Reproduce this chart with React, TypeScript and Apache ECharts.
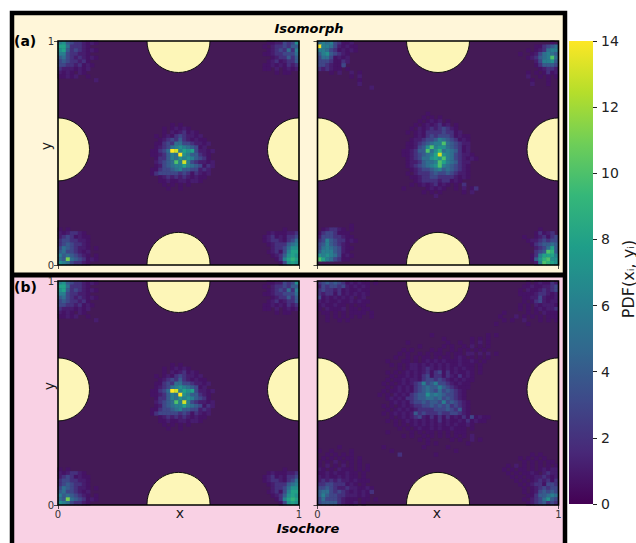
import React, { useEffect, useRef } from "react";
import * as echarts from "echarts";

const FONT = "DejaVu Sans";
const VIRIDIS = ["#44095c", "#482878", "#3e4989", "#31688e", "#26828e", "#1f9e89", "#35b779", "#6ece58", "#b5de2b", "#fde725"];
const colorbarStops = ["#440154", "#482878", "#3e4989", "#31688e", "#26828e", "#1f9e89", "#35b779", "#6ece58", "#b5de2b", "#fde725"];
const EMPTY_COLOR = "#441a56";
const BINS = 60;
const binLabels = Array.from({ length: BINS }, (_, i) => String(i));

// Hand-read cell values: digit = PDF value (hex, e = 14), "," = 0.5, "." = empty. Rows run top to bottom.
const isoLeftCentre = [ // col 21, row 21
  "...................",
  ".......,.,.........",
  ".....,.,1,1,.......",
  ".....,.1,12,1,.....",
  "...,.,1,23211,1....",
  "....,1232421,1,,...",
  "...,,2325533211,1..",
  "...,1235676543,1...",
  "..,,235ed6878311,1.",
  "..,,12465e764421,..",
  "...,224657676432,..",
  "...12345a6d63211,1.",
  "...,13456686543,21.",
  "..,,2334564433121..",
  "..,233333232,21,1..",
  "....,1212121,1,,...",
  "....,,1,,11,11,....",
  ".....,.,.,.,.......",
  "......,..,.........",
];
const isoLeftTL = [ // col 0, row 0
  "6743221,1,...",
  "8852221,.....",
  "7842321,1,...",
  "6632211,.....",
  "4532121,1,...",
  "3432212,.....",
  "332212,1,....",
  "2111,1,1.....",
  "1,1,.1,......",
  ",,1,1..,.....",
  ".........1...",
];
const isoLeftTR = [ // col 48, row 0
  "....,,113237",
  "...,.1223244",
  "....,1232526",
  "...,,1223335",
  ".....,122424",
  "....,12,1224",
  "...,,1,1,212",
  "...,,.1.,1,1",
  "......,.,,..",
];
const isoLeftBL = [ // col 0, row 50
  ",.,.........",
  "1,1221,.....",
  "1232,1,,....",
  "2332211,....",
  "2343221,....",
  "3543211,.,..",
  "453321,1....",
  "6454321,.,..",
  "54b5432,1,..",
  "7653221,....",
];
const isoLeftBR = [ // col 48, row 50
  "........,...",
  "....,1,,,112",
  "...,12,1,223",
  "...,1221,235",
  "....,1222456",
  ".....1223577",
  "....,12,3688",
  ".....,12478 ".replace(" ", "7"),
  "......,26898",
  ".......,3787",
];

const isoRightCentre = [ // col 19, row 19
  "........,...............",
  ".......,.,.,............",
  "......,.,1,1.,..........",
  ".....,.,1,12,1.,........",
  "....,.1,1212321,........",
  "...,.,1,2222322,1.......",
  ".....,1,2323332,1,,.....",
  "....,11233465432,1,.....",
  "...,,1234566a543211.....",
  "...,,1347a6775432,1.....",
  "..,,1244a57956542,1.....",
  "..,,1234568d7653211,....",
  "...,12355787a65321,1,...",
  "...,1124556a8654211.....",
  "...,1234567a654321,.....",
  "....,1233456454321,.....",
  "...,.1222343343211,.....",
  "....,,1223322221,1,.....",
  ".....,12222122,1,.......",
  "....,.,1,12,1,.,.2......",
  "..,.....,1,1,..,.1.,2...",
  ".......,.,.,.....,.1....",
  "..........1.............",
];
const isoRightTL = [ // col 0, row 0
  "565632,,1......",
  "e66531,1,,.....",
  "66532,1,1,.....",
  "4674321,.......",
  "3553,1,1.......",
  "3332,,21.......",
  "3321,,3........",
  "2121,,.,.......",
  "...,.1..1.,....",
  "........,.1....",
  "..........,....",
  "..........1....",
  ".............1.",
];
const isoRightTR = [ // col 44, row 0
  "..............,.",
  "..........,,2345",
  "........,.,12566",
  "......,..,135654",
  "........,12456a5",
  "..........136674",
  "..........,24443",
  "...........,1221",
  "........,.,.,2,1",
  "........1..,.,.,",
  ".........,...,..",
  ".........1...,..",
];
const isoRightBL = [ // col 0, row 49
  "........,...",
  ".,1221,.,...",
  ",2332,,,....",
  "1333221,,...",
  "2364322,1,..",
  "3464321,....",
  "3565431,,...",
  "4666431,....",
  "767653,1,...",
  "a86532,,....",
];
const isoRightBR = [ // col 46, row 50
  ".........,....",
  "........,2,12.",
  ".....,..,12,23",
  "......,1123233",
  ".......,234454",
  "........123584",
  "........234a94",
  ".......,268886",
  ".......,479a77",
  "........16a987",
];

const isochoreRightCentre = [ // col 14, row 14
  "..............,.............,.,.",
  ".................,......,.,.,...",
  "........,.........,..,..,.1.,...",
  "...........,.....,.,..,.1.,.,...",
  ".......,.,....,.,..,.,.,.,.,....",
  "......,.,..,.,.,,.,.,,.11.1.1.,.",
  ".....,..,.,.,,.,.,,.,1,.,.,.,...",
  "...,...,,.,.,1,1,1,,,1,,1,.,....",
  "....,.,.,11,1,1,1,1,,1,,,.,.....",
  "......,.,11,121,1,1,1,1,,.,.....",
  "...,.,.,1,1,12,23,2,1,,1,.,.....",
  "....,.,,1,1,23,22,21,2,1,.......",
  "...,.,,1,11,2332321,1,1,,.......",
  "..,.,.,1,12363463321,1,,........",
  "...,.,1,1,23454464321,,,........",
  "..,.,,1,1,234543534321,.........",
  ".,.,.1,1,23447565433 21,".replace(" ", ""),
  "...,1,1,22344554534321,.........",
  "....,1,1,23343443634321,........",
  "..,.,.,1,1223343434232 1,".replace(" ", ""),
  "...,.,1,1,1222233343241,........",
  "..,.,1,1,142322232233 21,".replace(" ", ""),
  "....,.,1,1231,2,2,2,1,2,3,1,,...",
  "...,.,.,1,1,1,1,2,1,,1,2,1,,....",
  ".....,.,.,1,1,1,1,1,1,,1,.......",
  "......,.,.,1,,1,1,,1,,,.,.......",
  "...,.....,.,.,,.,.,.,,,.........",
  ".......,.,..,.,.,.,.,.,.1.......",
  "...........,.,.....,.,..1.,.....",
  ".............,.,.......,........",
  "..,.........,.....,.............",
  "....,...............,...........",
  "......2........,................",
];
const isochoreRightTL = [ // col 0, row 0
  "2343432,1,1,,.,",
  "13233231,1,1,..",
  "232212,1,,1,,..",
  "2122,2,1,1,1,..",
  "3,1,1,1,1.,1...",
  "1,1,,1,,1,1,,..",
  ",1,,1,,.,.,,...",
  ",.1,,,1.,,.,,..",
  ".,,.,.,.,,,,.,.",
  "..,.,.,.,.,..,.",
  "..,..,.,.......",
];
const isochoreRightTR = [ // col 44, row 0
  "........,.,1,,213",
  ".......,,1,,1123",
  "......,.1,,12123",
  "......,,,,1221,1",
  ".......,,1131,,1",
  ".......,.,231,11",
  "......,.,.1,111,",
  "......,.,.,1,112",
  "..,.....,.,.1,,,",
  ".,...1.,.,.,.,,,",
  "..,.,..1...,.,.,",
  ",.......,.......",
];
const isochoreRightBL = [ // col 0, row 44
  ".....,.........",
  ",..,....,......",
  "..,.,.,.,......",
  ".,.,.,.,,.,....",
  ",.,.1.,.,.,....",
  ",.1.,.1.,.,.,..",
  "1,.,.1,,,.,.,..",
  ",,1,1,,1,,.,...",
  "1,1,,1,1,,.,...",
  "12121211,1,,,..",
  "2233222,1,.,...",
  "3343211211,,1,.",
  "45532321,1,1,2.",
  "4643322111,1,..",
  "3533321,,,.,,.,",
  "3444421,,1.,...",
];
const isochoreRightBR = [ // col 44, row 46
  ".........,.,....",
  "......,.,.,.,...",
  ".......,.,.,.,,.",
  "...,.1.,.,.,.,.,",
  "..,.,.,,.,.,1,11",
  "...,.,.,,1,.1211",
  "....,.,.,,1121,1",
  ".....,.,.,1212,2",
  "......,.,122,332",
  ".......,.,123233",
  ".......,.,134343",
  "........,,244565",
  ".......,.1235743",
  "........,1234232",
];

type Patch = [number, number, string[]];
const isomorphLeft: Patch[] = [[21, 21, isoLeftCentre], [0, 0, isoLeftTL], [48, 0, isoLeftTR], [0, 50, isoLeftBL], [48, 50, isoLeftBR]];
const isomorphRight: Patch[] = [[19, 19, isoRightCentre], [0, 0, isoRightTL], [44, 0, isoRightTR], [0, 49, isoRightBL], [46, 50, isoRightBR]];
const isochoreLeft = isomorphLeft;
const isochoreRight: Patch[] = [[14, 14, isochoreRightCentre], [0, 0, isochoreRightTL], [44, 0, isochoreRightTR], [0, 44, isochoreRightBL], [44, 46, isochoreRightBR]];

const excludedCentres = [[0.5, 1], [0.5, 0.005], [0, 0.516], [1, 0.516]];
const colorbarTop = [14];

function cells(patches: Patch[]) {
  const out: number[][] = [];
  patches.forEach(([c0, r0, rows]) => rows.forEach((s, r) => {
    s.split("").forEach((ch, c) => {
      const v = ch === "," ? 0.5 : parseInt(ch, 16);
      if (!isNaN(v) && v > 0 && c0 + c < BINS && r0 + r < BINS) out.push([c0 + c, r0 + r, v]);
    });
  }));
  return out;
}

const panels = [
  { left: 58, top: 41, labelX: false, labelY: true, patches: isomorphLeft },
  { left: 317.5, top: 41, labelX: false, labelY: false, patches: isomorphRight },
  { left: 58, top: 281, labelX: true, labelY: true, patches: isochoreLeft },
  { left: 317.5, top: 281, labelX: true, labelY: false, patches: isochoreRight },
];
const W = 241, H = 224;

function buildOption() {
  const grid: any[] = [], xAxis: any[] = [], yAxis: any[] = [], series: any[] = [];
  const graphic: any[] = [
    { type: "rect", z: -10, shape: { x: 12, y: 13, width: 553, height: 262 }, style: { fill: "#fff6d9" } },
    { type: "rect", z: -10, shape: { x: 12, y: 275, width: 553, height: 270 }, style: { fill: "#f9d1e4" } },
    { type: "polyline", z: -9, shape: { points: [[12, 544], [12, 13], [565, 13], [565, 544]] }, style: { fill: "none", stroke: "#000", lineWidth: 4.5 } },
    { type: "line", z: -9, shape: { x1: 12, y1: 275, x2: 565, y2: 275 }, style: { stroke: "#000", lineWidth: 5 } },
    { type: "text", x: 309, y: 28, style: { text: "Isomorph", font: `italic bold 13px "${FONT}"`, fill: "#000", align: "center", verticalAlign: "middle" } },
    { type: "text", x: 308, y: 528, z: 10, style: { text: "Isochore", font: `italic bold 13px "${FONT}"`, fill: "#000", align: "center", verticalAlign: "middle" } },
    { type: "text", x: 14, y: 41, style: { text: "(a)", font: `bold 14px "${FONT}"`, fill: "#000", verticalAlign: "middle" } },
    { type: "text", x: 14, y: 287, style: { text: "(b)", font: `bold 14px "${FONT}"`, fill: "#000", verticalAlign: "middle" } },
    { type: "text", x: 46, y: 146, rotation: Math.PI / 2, style: { text: "y", font: `14px "${FONT}"`, fill: "#1a1a1a", align: "center", verticalAlign: "middle" } },
    { type: "text", x: 49, y: 386, rotation: Math.PI / 2, style: { text: "y", font: `14px "${FONT}"`, fill: "#1a1a1a", align: "center", verticalAlign: "middle" } },
    { type: "text", x: 180, y: 513, style: { text: "x", font: `14px "${FONT}"`, fill: "#1a1a1a", align: "center", verticalAlign: "middle" } },
    { type: "text", x: 437, y: 513, style: { text: "x", font: `14px "${FONT}"`, fill: "#1a1a1a", align: "center", verticalAlign: "middle" } },
    { type: "text", x: 628, y: 279, rotation: Math.PI / 2, style: { text: "PDF(xᵢ, yᵢ)", font: `16px "${FONT}"`, fill: "#1a1a1a", align: "center", verticalAlign: "middle" } },
  ];

  panels.forEach((p, i) => {
    grid.push({ left: p.left, top: p.top, width: W, height: H, show: true, backgroundColor: EMPTY_COLOR, borderWidth: 0 });
    xAxis.push({ type: "category", gridIndex: i, data: binLabels, show: false, position: "bottom" });
    yAxis.push({ type: "category", gridIndex: i, data: binLabels, show: false, inverse: true, position: "left" });
    const valueAxis = (showLabel: boolean, position: string) => ({
      type: "value", gridIndex: i, min: 0, max: 1, interval: 1, position,
      splitLine: { show: false },
      axisLine: { show: false },
      axisTick: { show: true, length: 4, lineStyle: { color: "#222", width: 0.8 } },
      axisLabel: { show: showLabel, margin: 4, fontFamily: FONT, fontSize: 10, color: "#333" },
    });
    xAxis.push(valueAxis(p.labelX, "bottom"));
    yAxis.push(valueAxis(p.labelY, "left"));
    series.push({
      type: "heatmap", xAxisIndex: 2 * i, yAxisIndex: 2 * i, data: cells(p.patches), progressive: 0, silent: true,
    });
    series.push({
      type: "custom", xAxisIndex: 2 * i + 1, yAxisIndex: 2 * i + 1, data: excludedCentres, clip: true, silent: true, z: 5,
      renderItem: (_: any, api: any) => {
        const c = api.coord([api.value(0), api.value(1)]);
        return { type: "circle", shape: { cx: c[0], cy: c[1], r: 31.5 }, style: { fill: "#fdf6b8", stroke: "#111", lineWidth: 1 } };
      },
    });
    graphic.push({ type: "rect", z: 50, shape: { x: p.left, y: p.top, width: W, height: H }, style: { fill: "none", stroke: "#000", lineWidth: 1.6 } });
  });

  // colour bar
  grid.push({ left: 569, top: 41, width: 24, height: 463 });
  xAxis.push({ type: "category", gridIndex: 4, data: ["PDF"], show: false });
  yAxis.push({
    type: "value", gridIndex: 4, min: 0, max: 14, interval: 2, position: "right",
    splitLine: { show: false }, axisLine: { show: false },
    axisTick: { show: true, length: 4, lineStyle: { color: "#222", width: 1 } },
    axisLabel: { margin: 8, fontFamily: FONT, fontSize: 14, color: "#222" },
  });
  series.push({
    type: "bar", xAxisIndex: 8, yAxisIndex: 8, barWidth: "100%", data: colorbarTop, silent: true,
    itemStyle: {
      color: new echarts.graphic.LinearGradient(0, 1, 0, 0, colorbarStops.map((color, i) => ({ offset: i / (colorbarStops.length - 1), color }))),
    },
  });

  return {
    animation: false,
    backgroundColor: "#ffffff",
    textStyle: { fontFamily: FONT },
    grid, xAxis, yAxis, series, graphic,
    visualMap: { show: false, type: "continuous", min: 0, max: 14, seriesIndex: [0, 2, 4, 6], inRange: { color: VIRIDIS } },
  };
}

export default function App() {
  const ref = useRef<HTMLDivElement>(null);
  useEffect(() => {
    const chart = echarts.init(ref.current!, undefined, { renderer: "svg" });
    chart.setOption(buildOption() as any);
    return () => chart.dispose();
  }, []);
  return <div ref={ref} style={{ position: "absolute", left: 0, top: 0, width: 636, height: 543 }} />;
}
